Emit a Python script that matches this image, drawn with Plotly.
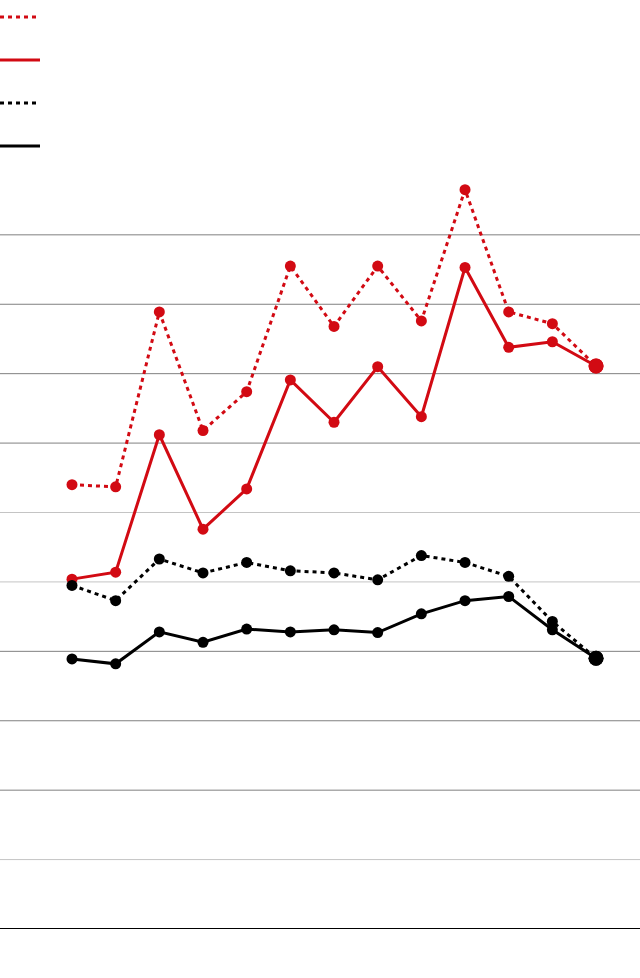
import plotly.graph_objects as go

# ---- data (units: one gridline step = 10) ----
categories = list(range(13))
red_dotted = [64.0, 63.7, 88.9, 71.8, 77.4, 95.5, 86.8, 95.5, 87.6, 106.5, 88.9, 87.2, 81.1]
red_solid = [50.4, 51.4, 71.2, 57.6, 63.4, 79.1, 73.0, 81.0, 73.8, 95.3, 83.8, 84.6, 81.1]
black_dotted = [49.5, 47.3, 53.3, 51.3, 52.8, 51.6, 51.3, 50.3, 53.8, 52.8, 50.8, 44.3, 39.0]
black_solid = [38.9, 38.2, 42.8, 41.3, 43.2, 42.8, 43.1, 42.7, 45.4, 47.3, 47.9, 43.1, 39.0]
grid_values = [10, 20, 30, 40, 50, 60, 70, 80, 90, 100]

RED = "#d20a13"
BLACK = "#000000"

W, H = 640, 978
M_T, M_B = 96, 49
PLOT_H = H - M_T - M_B


def pap(py):
    return (H - M_B - py) / PLOT_H


fig = go.Figure()

series = [
    (red_dotted, RED, "4px,4px"),
    (red_solid, RED, "solid"),
    (black_dotted, BLACK, "4px,4px"),
    (black_solid, BLACK, "solid"),
]

# grid lines (some render lighter in the reference)
grid_colors = ["#c4c4c4", "#808080", "#808080", "#808080", "#c4c4c4",
               "#c4c4c4", "#808080", "#808080", "#808080", "#808080"]
shapes = []
for gv, gc in zip(grid_values, grid_colors):
    shapes.append(dict(type="line", xref="paper", yref="y", x0=0, x1=1, y0=gv, y1=gv,
                       line=dict(color=gc, width=1), layer="below"))
# baseline
shapes.append(dict(type="line", xref="paper", yref="y", x0=0, x1=1, y0=0, y1=0,
                   line=dict(color="#000000", width=2), layer="above"))

# legend keys (no text in reference)
legend_py = [17, 60, 103, 146]
for (vals, col, dash), py in zip(series, legend_py):
    shapes.append(dict(type="line", xref="paper", yref="paper", x0=0, x1=40 / W,
                       y0=pap(py), y1=pap(py), line=dict(color=col, width=3, dash=dash)))

for vals, col, dash in series:
    sizes = [11] * (len(vals) - 1) + [15]
    fig.add_trace(go.Scatter(
        x=categories, y=vals, mode="lines+markers",
        line=dict(color=col, width=3, dash=dash),
        marker=dict(color=col, size=sizes, opacity=1, line=dict(width=0)),
        opacity=1,
        showlegend=False, cliponaxis=False,
    ))

fig.update_layout(
    width=W, height=H,
    margin=dict(l=0, r=0, t=M_T, b=M_B, pad=0),
    paper_bgcolor="white", plot_bgcolor="white",
    shapes=shapes,
    showlegend=False,
    xaxis=dict(range=[-72 / 43.67, -72 / 43.67 + W / 43.67], showgrid=False,
               zeroline=False, showticklabels=False, ticks="", showline=False, fixedrange=True),
    yaxis=dict(range=[0, 120], showgrid=False, zeroline=False, showticklabels=False,
               ticks="", showline=False, fixedrange=True),
)

fig.write_html("out.html", config={"displayModeBar": False},
               post_script="document.body.style.margin='0px';document.body.style.overflow='hidden';")
